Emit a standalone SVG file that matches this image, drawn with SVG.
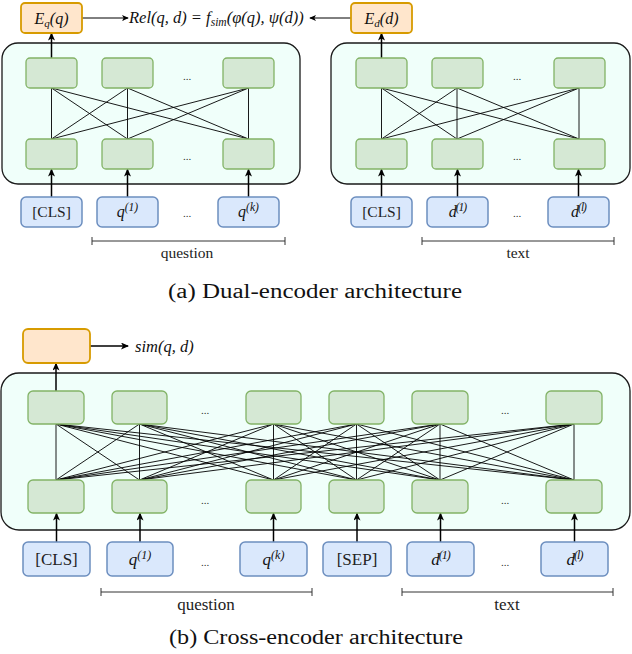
<svg xmlns="http://www.w3.org/2000/svg" width="632" height="654" viewBox="0 0 632 654">
<defs>
<style>
.cont{fill:#f0fffa;stroke:#1a1a1a;stroke-width:1.3}
.g{fill:#d5e8d4;stroke:#82b366;stroke-width:1.3}
.b{fill:#dae8fc;stroke:#6c8ebf;stroke-width:1.5}
.o{fill:#ffe6cc;stroke:#d79b00;stroke-width:1.8}
.ln{stroke:#000;stroke-width:0.9;fill:none}
.ar{stroke:#000;stroke-width:1.5;fill:none;marker-end:url(#ah)}
.ar2{stroke:#000;stroke-width:1;fill:none;marker-end:url(#ah2)}
.br{stroke:#333;stroke-width:1;fill:none}
.t{font-family:"Liberation Serif","Times New Roman",serif;fill:#222}
.i{font-family:"Liberation Serif","Times New Roman",serif;font-style:italic;fill:#111}
.dots{font-family:"Liberation Serif",serif;font-size:11px;fill:#333;text-anchor:middle}
.cap{font-family:"Liberation Serif","Times New Roman",serif;font-size:20px;fill:#111;text-anchor:middle}
</style>
<marker id="ah" viewBox="0 0 8 7" refX="7" refY="3.5" markerWidth="8" markerHeight="7" markerUnits="userSpaceOnUse" orient="auto"><path d="M0,0 L8,3.5 L0,7 L2,3.5 z" fill="#000"/></marker>
<marker id="ah2" viewBox="0 0 8 7" refX="7" refY="3.5" markerWidth="7" markerHeight="6" markerUnits="userSpaceOnUse" orient="auto"><path d="M0,0 L8,3.5 L0,7 L2,3.5 z" fill="#000"/></marker>
</defs>

<!-- Dual encoder containers -->
<rect id="dual-q-encoder" class="cont" x="2" y="43" width="298" height="141" rx="16"/>
<rect id="dual-d-encoder" class="cont" x="331" y="43" width="299" height="141" rx="16"/>
<!-- Cross encoder container -->
<rect id="cross-encoder" class="cont" x="1" y="373" width="629" height="157" rx="18"/>

<g id="connectors">
<g class="ln">
<line x1="51.5" y1="88" x2="51.5" y2="139"/><line x1="51.5" y1="88" x2="127.5" y2="139"/><line x1="51.5" y1="88" x2="248.5" y2="139"/>
<line x1="127.5" y1="88" x2="51.5" y2="139"/><line x1="127.5" y1="88" x2="127.5" y2="139"/><line x1="127.5" y1="88" x2="248.5" y2="139"/>
<line x1="248.5" y1="88" x2="51.5" y2="139"/><line x1="248.5" y1="88" x2="127.5" y2="139"/><line x1="248.5" y1="88" x2="248.5" y2="139"/>
<line x1="381.5" y1="88" x2="381.5" y2="139"/><line x1="381.5" y1="88" x2="457" y2="139"/><line x1="381.5" y1="88" x2="579" y2="139"/>
<line x1="457" y1="88" x2="381.5" y2="139"/><line x1="457" y1="88" x2="457" y2="139"/><line x1="457" y1="88" x2="579" y2="139"/>
<line x1="579" y1="88" x2="381.5" y2="139"/><line x1="579" y1="88" x2="457" y2="139"/><line x1="579" y1="88" x2="579" y2="139"/>
</g>
<g class="ln" stroke-width="0.8">
<line x1="56" y1="424" x2="56" y2="480"/><line x1="56" y1="424" x2="139.5" y2="480"/><line x1="56" y1="424" x2="273.5" y2="480"/><line x1="56" y1="424" x2="356.5" y2="480"/><line x1="56" y1="424" x2="440" y2="480"/><line x1="56" y1="424" x2="574" y2="480"/>
<line x1="139.5" y1="424" x2="56" y2="480"/><line x1="139.5" y1="424" x2="139.5" y2="480"/><line x1="139.5" y1="424" x2="273.5" y2="480"/><line x1="139.5" y1="424" x2="356.5" y2="480"/><line x1="139.5" y1="424" x2="440" y2="480"/><line x1="139.5" y1="424" x2="574" y2="480"/>
<line x1="273.5" y1="424" x2="56" y2="480"/><line x1="273.5" y1="424" x2="139.5" y2="480"/><line x1="273.5" y1="424" x2="273.5" y2="480"/><line x1="273.5" y1="424" x2="356.5" y2="480"/><line x1="273.5" y1="424" x2="440" y2="480"/><line x1="273.5" y1="424" x2="574" y2="480"/>
<line x1="356.5" y1="424" x2="56" y2="480"/><line x1="356.5" y1="424" x2="139.5" y2="480"/><line x1="356.5" y1="424" x2="273.5" y2="480"/><line x1="356.5" y1="424" x2="356.5" y2="480"/><line x1="356.5" y1="424" x2="440" y2="480"/><line x1="356.5" y1="424" x2="574" y2="480"/>
<line x1="440" y1="424" x2="56" y2="480"/><line x1="440" y1="424" x2="139.5" y2="480"/><line x1="440" y1="424" x2="273.5" y2="480"/><line x1="440" y1="424" x2="356.5" y2="480"/><line x1="440" y1="424" x2="440" y2="480"/><line x1="440" y1="424" x2="574" y2="480"/>
<line x1="574" y1="424" x2="56" y2="480"/><line x1="574" y1="424" x2="139.5" y2="480"/><line x1="574" y1="424" x2="273.5" y2="480"/><line x1="574" y1="424" x2="356.5" y2="480"/><line x1="574" y1="424" x2="440" y2="480"/><line x1="574" y1="424" x2="574" y2="480"/>
</g>
<line class="ar" x1="51.5" y1="197" x2="51.5" y2="169.5"/>
<line class="ar" x1="127.5" y1="197" x2="127.5" y2="169.5"/>
<line class="ar" x1="248.5" y1="197" x2="248.5" y2="169.5"/>
<line class="ar" x1="381.5" y1="197" x2="381.5" y2="169.5"/>
<line class="ar" x1="457.5" y1="197" x2="457.5" y2="169.5"/>
<line class="ar" x1="578.5" y1="197" x2="578.5" y2="169.5"/>
<line class="ar" x1="51.5" y1="58" x2="51.5" y2="33.5"/>
<line class="ar" x1="381.5" y1="58" x2="381.5" y2="33.5"/>
<line class="ar2" x1="82" y1="18" x2="128" y2="18"/>
<line class="ar2" x1="351" y1="18" x2="310" y2="18"/>
<line class="ar" x1="56.5" y1="542" x2="56.5" y2="513.5"/>
<line class="ar" x1="140" y1="542" x2="140" y2="513.5"/>
<line class="ar" x1="273.5" y1="542" x2="273.5" y2="513.5"/>
<line class="ar" x1="357" y1="542" x2="357" y2="513.5"/>
<line class="ar" x1="440.5" y1="542" x2="440.5" y2="513.5"/>
<line class="ar" x1="574.5" y1="542" x2="574.5" y2="513.5"/>
<line class="ar" x1="56" y1="391" x2="56" y2="363.5"/>
<line class="ar" x1="90" y1="346" x2="128" y2="346"/>
<path class="br" d="M92,237 V245 M92,241 H285 M285,237 V245"/>
<path class="br" d="M422,237 V245 M422,241 H614 M614,237 V245"/>
<path class="br" d="M101,588 V596 M101,592 H312 M312,588 V596"/>
<path class="br" d="M402,588 V596 M402,592 H613 M613,588 V596"/>
</g>

<g id="Eq"><rect class="o" x="21" y="3" width="61" height="30" rx="4"/>
<text class="i" x="51.5" y="24" font-size="16" text-anchor="middle">E<tspan font-size="11" dy="3">q</tspan><tspan dy="-3">(q)</tspan></text></g>
<g id="Ed"><rect class="o" x="351" y="3" width="61" height="30" rx="4"/>
<text class="i" x="381.5" y="24" font-size="16" text-anchor="middle">E<tspan font-size="11" dy="3">d</tspan><tspan dy="-3">(d)</tspan></text></g>
<g id="rel"><text class="i" x="129" y="23" font-size="16.5">Rel(q, d) = f<tspan font-size="11.5" dy="3">sim</tspan><tspan dy="-3">(φ(q), ψ(d))</tspan></text></g>

<g id="ql-top1"><rect class="g" x="26" y="58" width="51" height="30" rx="4"/></g>
<g id="ql-top2"><rect class="g" x="102" y="58" width="51" height="30" rx="4"/></g>
<g id="ql-top3"><rect class="g" x="223" y="58" width="51" height="30" rx="4"/></g>
<g id="ql-bot1"><rect class="g" x="26" y="139" width="51" height="30" rx="4"/></g>
<g id="ql-bot2"><rect class="g" x="102" y="139" width="51" height="30" rx="4"/></g>
<g id="ql-bot3"><rect class="g" x="223" y="139" width="51" height="30" rx="4"/></g>
<text class="dots" x="187" y="80">...</text>
<text class="dots" x="187" y="160">...</text>
<g id="dr-top1"><rect class="g" x="356" y="58" width="51" height="30" rx="4"/></g>
<g id="dr-top2"><rect class="g" x="432" y="58" width="51" height="30" rx="4"/></g>
<g id="dr-top3"><rect class="g" x="554" y="58" width="51" height="30" rx="4"/></g>
<g id="dr-bot1"><rect class="g" x="356" y="139" width="51" height="30" rx="4"/></g>
<g id="dr-bot2"><rect class="g" x="432" y="139" width="51" height="30" rx="4"/></g>
<g id="dr-bot3"><rect class="g" x="554" y="139" width="51" height="30" rx="4"/></g>
<text class="dots" x="517" y="80">...</text>
<text class="dots" x="517" y="160">...</text>

<g id="in-cls-a"><rect class="b" x="21" y="197" width="61" height="30" rx="5"/><text class="t" x="51.5" y="217" font-size="15.5" text-anchor="middle">[CLS]</text></g>
<g id="in-q1-a"><rect class="b" x="97" y="197" width="61" height="30" rx="5"/><text class="i" x="127.5" y="217" font-size="16" text-anchor="middle">q<tspan font-size="11.5" dy="-6">(1)</tspan></text></g>
<g id="in-qk-a"><rect class="b" x="218" y="197" width="61" height="30" rx="5"/><text class="i" x="248.5" y="217" font-size="16" text-anchor="middle">q<tspan font-size="11.5" dy="-6">(k)</tspan></text></g>
<text class="dots" x="187" y="217">...</text>
<g id="in-cls-b"><rect class="b" x="351" y="197" width="61" height="30" rx="5"/><text class="t" x="381.5" y="217" font-size="15.5" text-anchor="middle">[CLS]</text></g>
<g id="in-d1-a"><rect class="b" x="427" y="197" width="61" height="30" rx="5"/><text class="i" x="457.5" y="217" font-size="16" text-anchor="middle" letter-spacing="-1">d<tspan font-size="11.5" dy="-6">(1)</tspan></text></g>
<g id="in-dl-a"><rect class="b" x="548" y="197" width="61" height="30" rx="5"/><text class="i" x="578.5" y="217" font-size="16" text-anchor="middle" letter-spacing="-1">d<tspan font-size="11.5" dy="-6">(l)</tspan></text></g>
<text class="dots" x="517" y="217">...</text>
<text class="t" x="187" y="258" font-size="15.5" text-anchor="middle">question</text>
<text class="t" x="518" y="258" font-size="15.5" text-anchor="middle">text</text>
<text class="cap" x="315" y="298" textLength="294" lengthAdjust="spacingAndGlyphs">(a)  Dual-encoder architecture</text>

<g id="sim-node"><rect class="o" x="23" y="329" width="67" height="34" rx="5"/></g>
<g id="sim-label"><text class="i" x="135" y="352" font-size="16.5">sim(q, d)</text></g>

<g id="c-top1"><rect class="g" x="28" y="391" width="56" height="33" rx="5"/></g>
<g id="c-top2"><rect class="g" x="112" y="391" width="55" height="33" rx="5"/></g>
<g id="c-top3"><rect class="g" x="246" y="391" width="55" height="33" rx="5"/></g>
<g id="c-top4"><rect class="g" x="329" y="391" width="55" height="33" rx="5"/></g>
<g id="c-top5"><rect class="g" x="412" y="391" width="56" height="33" rx="5"/></g>
<g id="c-top6"><rect class="g" x="546" y="391" width="56" height="33" rx="5"/></g>
<g id="c-bot1"><rect class="g" x="28" y="480" width="56" height="33" rx="5"/></g>
<g id="c-bot2"><rect class="g" x="112" y="480" width="55" height="33" rx="5"/></g>
<g id="c-bot3"><rect class="g" x="246" y="480" width="55" height="33" rx="5"/></g>
<g id="c-bot4"><rect class="g" x="329" y="480" width="55" height="33" rx="5"/></g>
<g id="c-bot5"><rect class="g" x="412" y="480" width="56" height="33" rx="5"/></g>
<g id="c-bot6"><rect class="g" x="546" y="480" width="56" height="33" rx="5"/></g>
<text class="dots" x="205" y="414">...</text>
<text class="dots" x="505" y="414">...</text>
<text class="dots" x="205" y="504">...</text>
<text class="dots" x="505" y="504">...</text>

<g id="in-cls-c"><rect class="b" x="23" y="542" width="67" height="34" rx="5"/><text class="t" x="56.5" y="565" font-size="17" text-anchor="middle">[CLS]</text></g>
<g id="in-q1-c"><rect class="b" x="107" y="542" width="66" height="34" rx="5"/><text class="i" x="140" y="565" font-size="17" text-anchor="middle">q<tspan font-size="12" dy="-6">(1)</tspan></text></g>
<g id="in-qk-c"><rect class="b" x="240" y="542" width="67" height="34" rx="5"/><text class="i" x="273.5" y="565" font-size="17" text-anchor="middle">q<tspan font-size="12" dy="-6">(k)</tspan></text></g>
<g id="in-sep-c"><rect class="b" x="323" y="542" width="68" height="34" rx="5"/><text class="t" x="357" y="565" font-size="17" text-anchor="middle">[SEP]</text></g>
<g id="in-d1-c"><rect class="b" x="407" y="542" width="67" height="34" rx="5"/><text class="i" x="440.5" y="565" font-size="17" text-anchor="middle" letter-spacing="-1">d<tspan font-size="12" dy="-6">(1)</tspan></text></g>
<g id="in-dl-c"><rect class="b" x="541" y="542" width="67" height="34" rx="5"/><text class="i" x="574.5" y="565" font-size="17" text-anchor="middle" letter-spacing="-1">d<tspan font-size="12" dy="-6">(l)</tspan></text></g>
<text class="dots" x="205" y="566">...</text>
<text class="dots" x="505" y="566">...</text>
<text class="t" x="206" y="610" font-size="17" text-anchor="middle">question</text>
<text class="t" x="507" y="610" font-size="17" text-anchor="middle">text</text>
<text class="cap" x="316" y="644" textLength="294" lengthAdjust="spacingAndGlyphs">(b)  Cross-encoder architecture</text>
</svg>
